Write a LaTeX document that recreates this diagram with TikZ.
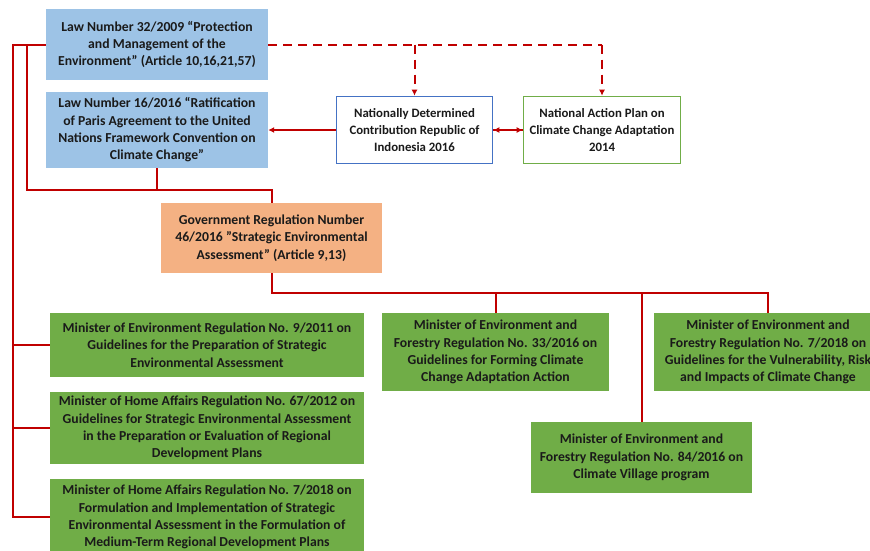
\documentclass[tikz,border=0pt]{standalone}
\usepackage{fontspec}
\setmainfont{Carlito}
\usetikzlibrary{arrows.meta}
\definecolor{lawblue}{HTML}{9DC3E6}
\definecolor{govorange}{HTML}{F4B183}
\definecolor{reggreen}{HTML}{70AD47}
\definecolor{ndcblue}{HTML}{4472C4}
\definecolor{linkred}{HTML}{C00000}
\definecolor{boxtext}{HTML}{1A1A1A}
\begin{document}
\begin{tikzpicture}[x=1pt,y=-1pt,
		box/.style={inner sep=0pt,align=center,text=boxtext,
			font=\fontsize{13.7}{17.3}\selectfont\bfseries},
		lawbox/.style={box,fill=lawblue},
		govbox/.style={box,fill=govorange},
		regbox/.style={box,fill=reggreen},
		planbox/.style={box,fill=white,line width=1.6pt,
			font=\fontsize{12.8}{17.3}\selectfont\bfseries},
		link/.style={draw=linkred,line width=2pt},
		dlink/.style={link,dash pattern=on 9pt off 6pt},
		tip/.style={-{Latex[length=6pt,width=6pt]}}]
		\useasboundingbox (0,0) rectangle (870,550);
		\node [lawbox,minimum width=222,minimum height=71] (law32) at (157,44.5)
			{Law Number 32/2009 “Protection\\and Management of the\\Environment” (Article 10,16,21,57)};
		\node [lawbox,minimum width=222,minimum height=76] (law16) at (157,130)
			{Law Number 16/2016 “Ratification\\of Paris Agreement to the United\\Nations Framework Convention on\\Climate Change”};
		\node [planbox,draw=ndcblue,minimum width=156,minimum height=67] (ndc) at (414.5,130)
			{Nationally Determined\\Contribution Republic of\\Indonesia 2016};
		\node [planbox,draw=reggreen,minimum width=157,minimum height=67] (nap) at (602,130)
			{National Action Plan on\\Climate Change Adaptation\\2014};
		\node [govbox,minimum width=221,minimum height=70] (gov) at (271.5,238)
			{Government Regulation Number\\46/2016 "Strategic Environmental\\Assessment" (Article 9,13)};
		\node [regbox,minimum width=314,minimum height=64] (reg9) at (207,345)
			{Minister of Environment Regulation No. 9/2011 on\\Guidelines for the Preparation of Strategic\\Environmental Assessment};
		\node [regbox,minimum width=314,minimum height=72] (reg67) at (207,428)
			{Minister of Home Affairs Regulation No. 67/2012 on\\Guidelines for Strategic Environmental Assessment\\in the Preparation or Evaluation of Regional\\Development Plans};
		\node [regbox,minimum width=314,minimum height=76] (reg7h) at (207,517)
			{Minister of Home Affairs Regulation No. 7/2018 on\\Formulation and Implementation of Strategic\\Environmental Assessment in the Formulation of\\Medium-Term Regional Development Plans};
		\node [regbox,minimum width=227,minimum height=78] (reg33) at (495.5,352)
			{Minister of Environment and\\Forestry Regulation No. 33/2016 on\\Guidelines for Forming Climate\\Change Adaptation Action};
		\node [regbox,minimum width=228,minimum height=78] (reg7f) at (768,352)
			{Minister of Environment and\\Forestry Regulation No. 7/2018 on\\Guidelines for the Vulnerability, Risk\\and Impacts of Climate Change};
		\node [regbox,minimum width=221,minimum height=71] (reg84) at (641.5,457.5)
			{Minister of Environment and\\Forestry Regulation No. 84/2016 on\\Climate Village program};
		\coordinate (spine) at (13,0);
		\coordinate (inner) at (27,0);
		\coordinate (upper) at (0,190);
		\coordinate (bus) at (0,293);
		\draw [link] (law32.west) -- (law32.west -| spine) -- (reg7h.west -| spine) -- (reg7h.west);
		\draw [link] (reg9.west -| spine) -- (reg9.west);
		\draw [link] (reg67.west -| spine) -- (reg67.west);
		\draw [link] (law32.west -| inner) |- (upper -| gov.north) -- (gov.north);
		\draw [link] (law16.south) -- (law16.south |- upper);
		\draw [link] (gov.south) |- (bus -| reg7f.north) -- (reg7f.north);
		\draw [link] (reg33.north |- bus) -- (reg33.north);
		\draw [link] (reg84.north |- bus) -- (reg84.north);
		\draw [dlink] (law32.east) -| (nap.north |- law32.east);
		\draw [dlink,tip] (nap.north |- law32.east) -- (nap.north);
		\draw [dlink,tip] (ndc.north |- law32.east) -- (ndc.north);
		\draw [link,tip] (ndc.west) -- (law16.east);
		\draw [link,tip] (ndc.east) -- (nap.west);
		\draw [link,tip] (nap.west) -- (ndc.east);
\end{tikzpicture}
\end{document}
